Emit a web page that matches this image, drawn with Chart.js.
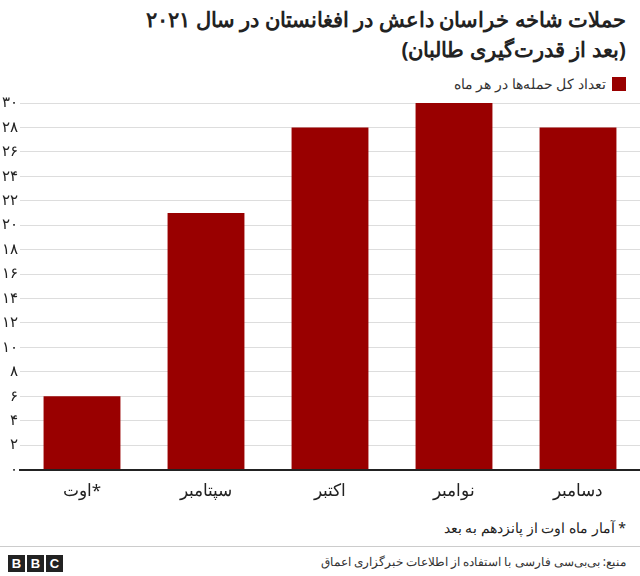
<!DOCTYPE html>
<html><head><meta charset="utf-8">
<script src="https://cdn.jsdelivr.net/npm/chart.js@4"></script>
<style>
body{margin:0;width:640px;height:576px;background:#fff;font-family:"Noto Sans",sans-serif;position:relative;overflow:hidden}
#t{position:absolute;right:14px;top:4px;direction:rtl;text-align:right;font-weight:bold;font-size:21px;line-height:30px;color:#222}
#lg{position:absolute;right:14px;top:74px;direction:rtl;font-size:14px;color:#333;display:flex;align-items:center}
#lg span.b{display:inline-block;width:14px;height:14px;background:#990000;margin-left:6px}
#c{position:absolute;left:0;top:92px;width:640px;height:412px}
#n{position:absolute;right:14px;top:518px;direction:rtl;font-size:14px;color:#222}
#f{position:absolute;left:0;right:0;top:546px;border-top:1px solid #ccc;height:30px}
#src{position:absolute;right:14px;top:6px;direction:rtl;font-size:12px;color:#333}
#bbc{position:absolute;left:8px;top:8px;display:flex;gap:2px}
#bbc div{width:17px;height:17px;background:#222;color:#fff;font:bold 13px "Liberation Sans",sans-serif;text-align:center;line-height:17px}
</style></head><body>
<div id="t">حملات شاخه خراسان داعش در افغانستان در سال ۲۰۲۱<br>(بعد از قدرت‌گیری طالبان)</div>
<div id="lg"><span class="b"></span>تعداد کل حمله‌ها در هر ماه</div>
<div id="c"><canvas id="cv"></canvas></div>
<div id="n">* آمار ماه اوت از پانزدهم به بعد</div>
<div id="f"><div id="bbc"><div>B</div><div>B</div><div>C</div></div><div id="src">منبع: بی‌بی‌سی فارسی با استفاده از اطلاعات خبرگزاری اعماق</div></div>
<script>
const categories=["اوت*","سپتامبر","اکتبر","نوامبر","دسامبر"];
const attacks=[6,21,28,30,28];
const fa=n=>String(n).replace(/\d/g,d=>"۰۱۲۳۴۵۶۷۸۹"[d]);
new Chart(document.getElementById('cv'),{type:'bar',
data:{labels:categories,datasets:[{data:attacks,backgroundColor:'#990000',categoryPercentage:1,barPercentage:0.62}]},
options:{responsive:true,maintainAspectRatio:false,animation:false,
layout:{padding:{left:0,right:0,top:8}},
plugins:{legend:{display:false},tooltip:{enabled:false}},
scales:{x:{grid:{display:false},border:{color:'#222',width:2},ticks:{color:'#222',font:{size:17,family:'Noto Sans'}}},
y:{position:'left',min:0,max:30,grid:{color:'#ddd',drawTicks:false},border:{display:false},
ticks:{stepSize:2,padding:2,color:'#222',font:{size:15,family:'Noto Sans'},callback:v=>fa(v)}}}}});
</script></body></html>
